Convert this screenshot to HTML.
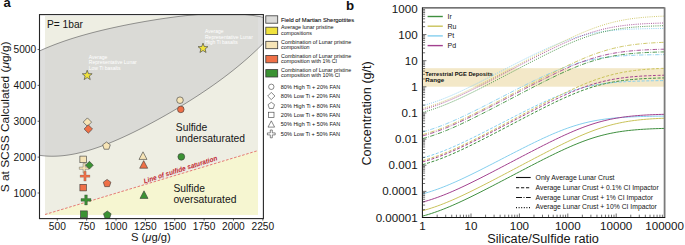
<!DOCTYPE html><html><head><meta charset="utf-8"><style>html,body{margin:0;padding:0;background:#fff;}svg{display:block;font-family:"Liberation Sans",sans-serif}</style></head><body>
<svg width="685" height="245" viewBox="0 0 685 245">
<defs><clipPath id="ca"><rect x="40" y="15" width="223" height="203"/></clipPath><clipPath id="cb"><rect x="423" y="8.5" width="241" height="209"/></clipPath></defs>
<rect width="685" height="245" fill="#fff"/>
<text x="3.4" y="7.4" font-size="13" font-weight="bold" fill="#111">a</text>
<text x="346.1" y="9.5" font-size="13.3" font-weight="bold" fill="#111">b</text>
<rect x="45" y="16" width="213" height="199" fill="#eeeee3"/>
<polygon points="45,214.50 258,150.60 258,215 45,215" fill="#f6f6d1"/>
<g clip-path="url(#ca)"><path d="M36.00,52.58 L38.00,51.64 L40.00,50.72 L42.00,49.83 L44.00,48.95 L46.00,48.10 L48.00,47.26 L50.00,46.44 L52.00,45.65 L54.00,44.86 L56.00,44.10 L58.00,43.36 L60.00,42.63 L62.00,41.91 L64.00,41.21 L66.00,40.53 L68.00,39.86 L70.00,39.20 L72.00,38.56 L74.00,37.93 L76.00,37.32 L78.00,36.71 L80.00,36.12 L82.00,35.54 L84.00,34.97 L86.00,34.41 L88.00,33.86 L90.00,33.32 L92.00,32.79 L94.00,32.27 L96.00,31.76 L98.00,31.26 L100.00,30.77 L102.00,30.28 L104.00,29.81 L106.00,29.34 L108.00,28.87 L110.00,28.42 L112.00,27.97 L114.00,27.53 L116.00,27.10 L118.00,26.67 L120.00,26.25 L122.00,25.83 L124.00,25.42 L126.00,25.02 L128.00,24.62 L130.00,24.23 L132.00,23.85 L134.00,23.47 L136.00,23.09 L138.00,22.73 L140.00,22.36 L142.00,22.00 L144.00,21.65 L146.00,21.30 L148.00,20.96 L150.00,20.63 L152.00,20.30 L154.00,19.97 L156.00,19.65 L158.00,19.34 L160.00,19.03 L162.00,18.73 L164.00,18.44 L166.00,18.15 L168.00,17.86 L170.00,17.59 L172.00,17.32 L174.00,17.06 L176.00,16.80 L178.00,16.55 L180.00,16.31 L182.00,16.08 L184.00,15.85 L186.00,15.63 L188.00,15.42 L190.00,15.22 L192.00,15.03 L194.00,14.85 L196.00,14.67 L198.00,14.51 L200.00,14.36 L202.00,14.21 L204.00,14.08 L206.00,13.96 L208.00,13.85 L210.00,13.76 L212.00,13.67 L214.00,13.60 L216.00,13.54 L218.00,13.50 L220.00,13.47 L222.00,13.45 L224.00,13.45 L226.00,13.47 L228.00,13.50 L230.00,13.55 L232.00,13.61 L234.00,13.69 L236.00,13.80 L238.00,13.92 L240.00,14.05 L242.00,14.21 L244.00,14.39 L246.00,14.60 L248.00,14.82 L250.00,15.06 L252.00,15.33 L254.00,15.62 L256.00,15.94 L258.00,16.28 L260.00,16.65 L262.00,17.05 L264.00,17.47 L266.00,17.92 L268.00,18.40 L268.00,38.59 L266.00,40.66 L264.00,42.70 L262.00,44.70 L260.00,46.67 L258.00,48.60 L256.00,50.51 L254.00,52.38 L252.00,54.22 L250.00,56.04 L248.00,57.82 L246.00,59.58 L244.00,61.31 L242.00,63.02 L240.00,64.70 L238.00,66.35 L236.00,67.99 L234.00,69.60 L232.00,71.19 L230.00,72.76 L228.00,74.30 L226.00,75.83 L224.00,77.34 L222.00,78.83 L220.00,80.31 L218.00,81.76 L216.00,83.20 L214.00,84.62 L212.00,86.03 L210.00,87.42 L208.00,88.80 L206.00,90.17 L204.00,91.51 L202.00,92.85 L200.00,94.18 L198.00,95.49 L196.00,96.79 L194.00,98.07 L192.00,99.35 L190.00,100.61 L188.00,101.87 L186.00,103.11 L184.00,104.34 L182.00,105.57 L180.00,106.78 L178.00,107.98 L176.00,109.17 L174.00,110.36 L172.00,111.53 L170.00,112.69 L168.00,113.85 L166.00,115.00 L164.00,116.13 L162.00,117.26 L160.00,118.38 L158.00,119.49 L156.00,120.58 L154.00,121.67 L152.00,122.75 L150.00,123.82 L148.00,124.89 L146.00,125.94 L144.00,126.98 L142.00,128.01 L140.00,129.03 L138.00,130.04 L136.00,131.03 L134.00,132.02 L132.00,132.99 L130.00,133.96 L128.00,134.91 L126.00,135.84 L124.00,136.77 L122.00,137.68 L120.00,138.57 L118.00,139.46 L116.00,140.32 L114.00,141.18 L112.00,142.01 L110.00,142.83 L108.00,143.63 L106.00,144.42 L104.00,145.18 L102.00,145.93 L100.00,146.66 L98.00,147.37 L96.00,148.05 L94.00,148.72 L92.00,149.36 L90.00,149.98 L88.00,150.58 L86.00,151.15 L84.00,151.70 L82.00,152.22 L80.00,152.71 L78.00,153.17 L76.00,153.61 L74.00,154.02 L72.00,154.39 L70.00,154.73 L68.00,155.05 L66.00,155.32 L64.00,155.57 L62.00,155.77 L60.00,155.94 L58.00,156.08 L56.00,156.17 L54.00,156.23 L52.00,156.24 L50.00,156.21 L48.00,156.13 L46.00,156.02 L44.00,155.85 L42.00,155.64 L40.00,155.38 L38.00,155.07 L36.00,154.71 Z" fill="#d3d3d1" fill-opacity="0.74" stroke="#555" stroke-width="0.6"/></g>
<line x1="45" y1="214.50" x2="258" y2="150.60" stroke="#e05a5a" stroke-width="0.8" stroke-dasharray="2.6 1.6"/>
<text transform="translate(144.4,183.4) rotate(-17.6)" font-size="6.9" font-weight="bold" font-style="italic" fill="#bf2430" textLength="77" lengthAdjust="spacingAndGlyphs">Line of sulfide saturation</text>
<text x="47" y="27.5" font-size="10.2" fill="#151515">P= 1bar</text>
<text font-size="10.3" fill="#151515"><tspan x="175.8" y="130.7">Sulfide</tspan><tspan x="175.8" y="142.1">undersaturated</tspan></text>
<text font-size="10.3" fill="#151515"><tspan x="173.4" y="192.1">Sulfide</tspan><tspan x="173.4" y="203.1">oversaturated</tspan></text>
<text font-size="5" fill="#fff"><tspan x="88.8" y="59.4">Average</tspan><tspan x="88.8" y="64.4">Representative Lunar</tspan><tspan x="88.8" y="69.5">Low Ti basalts</tspan></text>
<text font-size="5" fill="#fff"><tspan x="205" y="33.4">Average</tspan><tspan x="205" y="38.7">Representative Lunar</tspan><tspan x="205" y="44">High Ti basalts</tspan></text>
<g>
<polygon points="87.20,70.20 88.48,73.63 92.15,73.79 89.28,76.07 90.26,79.61 87.20,77.58 84.14,79.61 85.12,76.07 82.25,73.79 85.92,73.63" fill="#f0e23e" stroke="#3a3a3a" stroke-width="0.6" stroke-linejoin="round"/>
<polygon points="203.00,43.10 204.28,46.53 207.95,46.69 205.08,48.97 206.06,52.51 203.00,50.48 199.94,52.51 200.92,48.97 198.05,46.69 201.72,46.53" fill="#f0e23e" stroke="#3a3a3a" stroke-width="0.6" stroke-linejoin="round"/>
<polygon points="87.4,117.89999999999999 91.60000000000001,122.1 87.4,126.3 83.2,122.1" fill="#f6e4b6" stroke="#3a3a3a" stroke-width="0.6"/>
<polygon points="88.3,124.8 92.5,129.0 88.3,133.2 84.1,129.0" fill="#ef7047" stroke="#3a3a3a" stroke-width="0.6"/>
<circle cx="180" cy="100.2" r="3.3" fill="#f6e4b6" stroke="#3a3a3a" stroke-width="0.6"/>
<circle cx="180.8" cy="109.4" r="3.3" fill="#ef7047" stroke="#3a3a3a" stroke-width="0.6"/>
<polygon points="106.50,142.00 110.30,144.76 108.85,149.24 104.15,149.24 102.70,144.76" fill="#f6e4b6" stroke="#3a3a3a" stroke-width="0.6" stroke-linejoin="round"/>
<rect x="79.90" y="156.10" width="6.6" height="6.6" fill="#f6e4b6" stroke="#3a3a3a" stroke-width="0.6"/>
<polygon points="83.10,163.30 85.30,163.30 85.30,167.10 89.10,167.10 89.10,169.30 85.30,169.30 85.30,173.10 83.10,173.10 83.10,169.30 79.30,169.30 79.30,167.10 83.10,167.10" fill="#f6e4b6" stroke="#3a3a3a" stroke-width="0.5" stroke-opacity="0.7"/>
<polygon points="89.4,161.29999999999998 93.30000000000001,165.2 89.4,169.1 85.5,165.2" fill="#3b9233" stroke="#3a3a3a" stroke-width="0.6"/>
<polygon points="143,151.82 147.00,159.42 139.00,159.42" fill="#f6e4b6" stroke="#3a3a3a" stroke-width="0.6" stroke-linejoin="round"/>
<polygon points="143.7,160.62 147.70,168.22 139.70,168.22" fill="#ef7047" stroke="#3a3a3a" stroke-width="0.6" stroke-linejoin="round"/>
<circle cx="181.3" cy="156.8" r="3.4" fill="#3b9233" stroke="#3a3a3a" stroke-width="0.6"/>
<polygon points="83.85,171.30 86.15,171.30 86.15,175.05 89.90,175.05 89.90,177.35 86.15,177.35 86.15,181.10 83.85,181.10 83.85,177.35 80.10,177.35 80.10,175.05 83.85,175.05" fill="#ef7047" stroke="#3a3a3a" stroke-width="0.5" stroke-opacity="0.4"/>
<rect x="79.90" y="184.30" width="6.6" height="6.6" fill="#ef7047" stroke="#3a3a3a" stroke-width="0.6"/>
<polygon points="107.10,179.40 110.90,182.16 109.45,186.64 104.75,186.64 103.30,182.16" fill="#ef7047" stroke="#3a3a3a" stroke-width="0.6" stroke-linejoin="round"/>
<polygon points="144,190.82 148.00,198.42 140.00,198.42" fill="#3b9233" stroke="#3a3a3a" stroke-width="0.6" stroke-linejoin="round"/>
<polygon points="84.70,194.90 87.30,194.90 87.30,198.60 91.00,198.60 91.00,201.20 87.30,201.20 87.30,204.90 84.70,204.90 84.70,201.20 81.00,201.20 81.00,198.60 84.70,198.60" fill="#3b9233" stroke="#3a3a3a" stroke-width="0.5" stroke-opacity="0.7"/>
<rect x="80.50" y="210.90" width="6.8" height="6.8" fill="#3b9233" stroke="#3a3a3a" stroke-width="0.6"/>
<polygon points="107.30,211.00 111.10,213.76 109.65,218.24 104.95,218.24 103.50,213.76" fill="#3b9233" stroke="#3a3a3a" stroke-width="0.6" stroke-linejoin="round"/>
</g>
<rect x="39.5" y="14.6" width="223.9" height="204.0" fill="none" stroke="#262626" stroke-width="1.1"/>
<line x1="37.6" y1="193.00" x2="39.5" y2="193.00" stroke="#333" stroke-width="0.8"/>
<text x="36.2" y="196.60" font-size="10.2" text-anchor="end" fill="#151515">1000</text>
<line x1="37.6" y1="157.12" x2="39.5" y2="157.12" stroke="#333" stroke-width="0.8"/>
<text x="36.2" y="160.72" font-size="10.2" text-anchor="end" fill="#151515">2000</text>
<line x1="37.6" y1="121.24" x2="39.5" y2="121.24" stroke="#333" stroke-width="0.8"/>
<text x="36.2" y="124.84" font-size="10.2" text-anchor="end" fill="#151515">3000</text>
<line x1="37.6" y1="85.36" x2="39.5" y2="85.36" stroke="#333" stroke-width="0.8"/>
<text x="36.2" y="88.96" font-size="10.2" text-anchor="end" fill="#151515">4000</text>
<line x1="37.6" y1="49.48" x2="39.5" y2="49.48" stroke="#333" stroke-width="0.8"/>
<text x="36.2" y="53.08" font-size="10.2" text-anchor="end" fill="#151515">5000</text>
<line x1="57.30" y1="218.6" x2="57.30" y2="220.6" stroke="#333" stroke-width="0.8"/>
<text x="57.30" y="229.8" font-size="10.2" text-anchor="middle" fill="#151515">500</text>
<line x1="86.66" y1="218.6" x2="86.66" y2="220.6" stroke="#333" stroke-width="0.8"/>
<text x="86.66" y="229.8" font-size="10.2" text-anchor="middle" fill="#151515">750</text>
<line x1="116.02" y1="218.6" x2="116.02" y2="220.6" stroke="#333" stroke-width="0.8"/>
<text x="116.02" y="229.8" font-size="10.2" text-anchor="middle" fill="#151515">1000</text>
<line x1="145.38" y1="218.6" x2="145.38" y2="220.6" stroke="#333" stroke-width="0.8"/>
<text x="145.38" y="229.8" font-size="10.2" text-anchor="middle" fill="#151515">1250</text>
<line x1="174.74" y1="218.6" x2="174.74" y2="220.6" stroke="#333" stroke-width="0.8"/>
<text x="174.74" y="229.8" font-size="10.2" text-anchor="middle" fill="#151515">1500</text>
<line x1="204.10" y1="218.6" x2="204.10" y2="220.6" stroke="#333" stroke-width="0.8"/>
<text x="204.10" y="229.8" font-size="10.2" text-anchor="middle" fill="#151515">1750</text>
<line x1="233.46" y1="218.6" x2="233.46" y2="220.6" stroke="#333" stroke-width="0.8"/>
<text x="233.46" y="229.8" font-size="10.2" text-anchor="middle" fill="#151515">2000</text>
<line x1="262.82" y1="218.6" x2="262.82" y2="220.6" stroke="#333" stroke-width="0.8"/>
<text x="262.82" y="229.8" font-size="10.2" text-anchor="middle" fill="#151515">2250</text>
<text x="131.0" y="241.2" font-size="10.9" fill="#151515" textLength="39.8" lengthAdjust="spacingAndGlyphs">S (<tspan font-style="italic">μ</tspan>g/g)</text>
<text transform="translate(9.0,192.3) rotate(-90)" font-size="11" fill="#151515" textLength="150.8" lengthAdjust="spacingAndGlyphs">S at SCSS Calculated (<tspan font-style="italic">μ</tspan>g/g)</text>
<rect x="265.8" y="15.80" width="11.9" height="7.4" fill="#dcdcda" stroke="#3a3a3a" stroke-width="0.8"/>
<rect x="265.8" y="27.20" width="11.9" height="7.4" fill="#f0e23e" stroke="#3a3a3a" stroke-width="0.8"/>
<rect x="265.8" y="41.30" width="11.9" height="7.4" fill="#f6e4b6" stroke="#3a3a3a" stroke-width="0.8"/>
<rect x="265.8" y="55.40" width="11.9" height="7.4" fill="#ef7047" stroke="#3a3a3a" stroke-width="0.8"/>
<rect x="265.8" y="69.60" width="11.9" height="7.4" fill="#3b9233" stroke="#3a3a3a" stroke-width="0.8"/>
<text x="281" y="21.6" font-size="5.9" fill="#111" stroke="#111" stroke-width="0.1" textLength="73.2" lengthAdjust="spacingAndGlyphs">Field of Martian Shergottites</text>
<text x="281" y="29.00" font-size="5.9" fill="#111" textLength="52.5" lengthAdjust="spacingAndGlyphs">Average lunar pristine</text>
<text x="281" y="34.70" font-size="5.9" fill="#111" textLength="30.8" lengthAdjust="spacingAndGlyphs">compositions</text>
<text x="281" y="43.60" font-size="5.9" fill="#111" textLength="70.3" lengthAdjust="spacingAndGlyphs">Combination of Lunar pristine</text>
<text x="281" y="49.30" font-size="5.9" fill="#111" textLength="28.6" lengthAdjust="spacingAndGlyphs">composition</text>
<text x="281" y="57.60" font-size="5.9" fill="#111" textLength="70.3" lengthAdjust="spacingAndGlyphs">Combination of Lunar pristine</text>
<text x="281" y="63.30" font-size="5.9" fill="#111" textLength="56.1" lengthAdjust="spacingAndGlyphs">composition with 1% CI</text>
<text x="281" y="71.70" font-size="5.9" fill="#111" textLength="70.3" lengthAdjust="spacingAndGlyphs">Combination of Lunar pristine</text>
<text x="281" y="77.40" font-size="5.9" fill="#111" textLength="59.1" lengthAdjust="spacingAndGlyphs">composition with 10% CI</text>
<circle cx="271.3" cy="86.8" r="2.7" fill="#fff" stroke="#3a3a3a" stroke-width="0.6"/>
<text x="280.8" y="88.90" font-size="5.9" fill="#111" textLength="59.4" lengthAdjust="spacingAndGlyphs">80% High Ti + 20% FAN</text>
<polygon points="271.3,92.4 274.90000000000003,96.0 271.3,99.6 267.7,96.0" fill="#fff" stroke="#3a3a3a" stroke-width="0.6"/>
<text x="280.8" y="98.10" font-size="5.9" fill="#111" textLength="59.4" lengthAdjust="spacingAndGlyphs">80% Low Ti + 20% FAN</text>
<polygon points="271.30,102.30 274.53,104.65 273.30,108.45 269.30,108.45 268.07,104.65" fill="#fff" stroke="#3a3a3a" stroke-width="0.6" stroke-linejoin="round"/>
<text x="280.8" y="107.50" font-size="5.9" fill="#111" textLength="59.4" lengthAdjust="spacingAndGlyphs">20% High Ti + 80% FAN</text>
<rect x="268.60" y="112.20" width="5.4" height="5.4" fill="#fff" stroke="#3a3a3a" stroke-width="0.6"/>
<text x="280.8" y="117.00" font-size="5.9" fill="#111" textLength="59.4" lengthAdjust="spacingAndGlyphs">20% Low Ti + 80% FAN</text>
<polygon points="271.3,120.85 274.60,127.12 268.00,127.12" fill="#fff" stroke="#3a3a3a" stroke-width="0.6" stroke-linejoin="round"/>
<text x="280.8" y="126.40" font-size="5.9" fill="#111" textLength="59.4" lengthAdjust="spacingAndGlyphs">50% High Ti + 50% FAN</text>
<polygon points="270.30,130.00 272.30,130.00 272.30,132.90 275.20,132.90 275.20,134.90 272.30,134.90 272.30,137.80 270.30,137.80 270.30,134.90 267.40,134.90 267.40,132.90 270.30,132.90" fill="#fff" stroke="#3a3a3a" stroke-width="0.6" stroke-opacity="1"/>
<text x="280.8" y="136.00" font-size="5.9" fill="#111" textLength="59.4" lengthAdjust="spacingAndGlyphs">50% Low Ti + 50% FAN</text>
<rect x="423" y="68.2" width="241" height="18.5" fill="#f3e8c8"/>
<text font-size="6.2" font-weight="bold" fill="#111"><tspan x="425.3" y="76.4" textLength="67.5" lengthAdjust="spacingAndGlyphs">Terrestrial PGE Deposits</tspan><tspan x="425.3" y="81.9">Range</tspan></text>
<g clip-path="url(#cb)" fill="none">
<path d="M422.60,157.90 L425.62,157.05 L428.65,156.15 L431.68,155.19 L434.70,154.17 L437.73,153.10 L440.75,151.98 L443.78,150.81 L446.80,149.59 L449.83,148.33 L452.85,147.04 L455.88,145.70 L458.90,144.33 L461.93,142.94 L464.95,141.52 L467.98,140.07 L471.00,138.60 L474.03,137.12 L477.05,135.62 L480.08,134.10 L483.10,132.58 L486.12,131.04 L489.15,129.50 L492.18,127.95 L495.20,126.39 L498.23,124.83 L501.25,123.28 L504.28,121.72 L507.30,120.16 L510.33,118.60 L513.35,117.05 L516.38,115.51 L519.40,113.97 L522.43,112.44 L525.45,110.92 L528.48,109.42 L531.50,107.93 L534.52,106.46 L537.55,105.01 L540.58,103.58 L543.60,102.17 L546.62,100.80 L549.65,99.46 L552.67,98.15 L555.70,96.88 L558.73,95.65 L561.75,94.47 L564.77,93.33 L567.80,92.25 L570.83,91.22 L573.85,90.24 L576.88,89.32 L579.90,88.46 L582.92,87.66 L585.95,86.92 L588.98,86.23 L592.00,85.61 L595.02,85.03 L598.05,84.51 L601.08,84.04 L604.10,83.61 L607.12,83.23 L610.15,82.89 L613.17,82.58 L616.20,82.31 L619.23,82.07 L622.25,81.86 L625.27,81.68 L628.30,81.51 L631.33,81.37 L634.35,81.24 L637.38,81.13 L640.40,81.04 L643.42,80.95 L646.45,80.88 L649.48,80.81 L652.50,80.76 L655.52,80.71 L658.55,80.67 L661.58,80.63 L664.60,80.60" stroke="#85cfee" stroke-width="1.0" stroke-dasharray="3 1.6"/>
<path d="M422.60,160.60 L425.62,159.75 L428.65,158.85 L431.68,157.89 L434.70,156.87 L437.73,155.80 L440.75,154.67 L443.78,153.50 L446.80,152.28 L449.83,151.02 L452.85,149.72 L455.88,148.38 L458.90,147.01 L461.93,145.61 L464.95,144.19 L467.98,142.73 L471.00,141.26 L474.03,139.77 L477.05,138.26 L480.08,136.74 L483.10,135.20 L486.12,133.65 L489.15,132.09 L492.18,130.53 L495.20,128.95 L498.23,127.37 L501.25,125.79 L504.28,124.20 L507.30,122.61 L510.33,121.02 L513.35,119.42 L516.38,117.82 L519.40,116.23 L522.43,114.63 L525.45,113.04 L528.48,111.45 L531.50,109.86 L534.52,108.28 L537.55,106.70 L540.58,105.13 L543.60,103.56 L546.62,102.01 L549.65,100.46 L552.67,98.93 L555.70,97.41 L558.73,95.90 L561.75,94.41 L564.77,92.94 L567.80,91.50 L570.83,90.07 L573.85,88.68 L576.88,87.32 L579.90,85.99 L582.92,84.69 L585.95,83.44 L588.98,82.23 L592.00,81.07 L595.02,79.95 L598.05,78.89 L601.08,77.88 L604.10,76.93 L607.12,76.04 L610.15,75.21 L613.17,74.43 L616.20,73.71 L619.23,73.05 L622.25,72.45 L625.27,71.90 L628.30,71.40 L631.33,70.95 L634.35,70.54 L637.38,70.18 L640.40,69.86 L643.42,69.57 L646.45,69.31 L649.48,69.08 L652.50,68.88 L655.52,68.71 L658.55,68.55 L661.58,68.42 L664.60,68.30" stroke="#c9c25a" stroke-width="1.0" stroke-dasharray="3 1.6"/>
<path d="M422.60,164.60 L425.62,163.75 L428.65,162.85 L431.68,161.89 L434.70,160.87 L437.73,159.80 L440.75,158.68 L443.78,157.50 L446.80,156.29 L449.83,155.02 L452.85,153.72 L455.88,152.39 L458.90,151.02 L461.93,149.62 L464.95,148.19 L467.98,146.74 L471.00,145.27 L474.03,143.78 L477.05,142.27 L480.08,140.75 L483.10,139.22 L486.12,137.67 L489.15,136.12 L492.18,134.55 L495.20,132.99 L498.23,131.41 L501.25,129.83 L504.28,128.25 L507.30,126.67 L510.33,125.08 L513.35,123.50 L516.38,121.91 L519.40,120.33 L522.43,118.75 L525.45,117.18 L528.48,115.61 L531.50,114.04 L534.52,112.49 L537.55,110.94 L540.58,109.41 L543.60,107.88 L546.62,106.37 L549.65,104.88 L552.67,103.40 L555.70,101.95 L558.73,100.52 L561.75,99.11 L564.77,97.74 L567.80,96.40 L570.83,95.09 L573.85,93.82 L576.88,92.59 L579.90,91.41 L582.92,90.28 L585.95,89.20 L588.98,88.17 L592.00,87.20 L595.02,86.29 L598.05,85.43 L601.08,84.63 L604.10,83.89 L607.12,83.21 L610.15,82.59 L613.17,82.02 L616.20,81.50 L619.23,81.03 L622.25,80.61 L625.27,80.23 L628.30,79.89 L631.33,79.59 L634.35,79.32 L637.38,79.08 L640.40,78.87 L643.42,78.69 L646.45,78.53 L649.48,78.39 L652.50,78.26 L655.52,78.15 L658.55,78.06 L661.58,77.97 L664.60,77.90" stroke="#3f8f3f" stroke-width="1.0" stroke-dasharray="3 1.6"/>
<path d="M422.60,161.90 L425.62,161.05 L428.65,160.15 L431.68,159.19 L434.70,158.17 L437.73,157.10 L440.75,155.98 L443.78,154.80 L446.80,153.59 L449.83,152.32 L452.85,151.02 L455.88,149.69 L458.90,148.32 L461.93,146.92 L464.95,145.49 L467.98,144.04 L471.00,142.57 L474.03,141.08 L477.05,139.57 L480.08,138.05 L483.10,136.52 L486.12,134.97 L489.15,133.42 L492.18,131.85 L495.20,130.29 L498.23,128.71 L501.25,127.13 L504.28,125.55 L507.30,123.97 L510.33,122.38 L513.35,120.80 L516.38,119.21 L519.40,117.63 L522.43,116.05 L525.45,114.48 L528.48,112.91 L531.50,111.34 L534.52,109.79 L537.55,108.24 L540.58,106.71 L543.60,105.18 L546.62,103.67 L549.65,102.18 L552.67,100.70 L555.70,99.25 L558.73,97.82 L561.75,96.41 L564.77,95.04 L567.80,93.70 L570.83,92.39 L573.85,91.12 L576.88,89.89 L579.90,88.71 L582.92,87.58 L585.95,86.50 L588.98,85.47 L592.00,84.50 L595.02,83.59 L598.05,82.73 L601.08,81.93 L604.10,81.19 L607.12,80.51 L610.15,79.89 L613.17,79.32 L616.20,78.80 L619.23,78.33 L622.25,77.91 L625.27,77.53 L628.30,77.19 L631.33,76.89 L634.35,76.62 L637.38,76.38 L640.40,76.17 L643.42,75.99 L646.45,75.83 L649.48,75.69 L652.50,75.56 L655.52,75.45 L658.55,75.36 L661.58,75.27 L664.60,75.20" stroke="#a2418f" stroke-width="1.0" stroke-dasharray="3 1.6"/>
<path d="M422.60,131.90 L425.62,131.05 L428.65,130.15 L431.68,129.19 L434.70,128.17 L437.73,127.10 L440.75,125.98 L443.78,124.81 L446.80,123.59 L449.83,122.33 L452.85,121.04 L455.88,119.70 L458.90,118.33 L461.93,116.94 L464.95,115.52 L467.98,114.07 L471.00,112.60 L474.03,111.12 L477.05,109.62 L480.08,108.10 L483.10,106.58 L486.12,105.04 L489.15,103.50 L492.18,101.95 L495.20,100.39 L498.23,98.83 L501.25,97.28 L504.28,95.72 L507.30,94.16 L510.33,92.60 L513.35,91.05 L516.38,89.51 L519.40,87.97 L522.43,86.44 L525.45,84.92 L528.48,83.42 L531.50,81.93 L534.52,80.46 L537.55,79.01 L540.58,77.58 L543.60,76.17 L546.62,74.80 L549.65,73.46 L552.67,72.15 L555.70,70.88 L558.73,69.65 L561.75,68.47 L564.77,67.33 L567.80,66.25 L570.83,65.22 L573.85,64.24 L576.88,63.32 L579.90,62.46 L582.92,61.66 L585.95,60.92 L588.98,60.23 L592.00,59.61 L595.02,59.03 L598.05,58.51 L601.08,58.04 L604.10,57.61 L607.12,57.23 L610.15,56.89 L613.17,56.58 L616.20,56.31 L619.23,56.07 L622.25,55.86 L625.27,55.68 L628.30,55.51 L631.33,55.37 L634.35,55.24 L637.38,55.13 L640.40,55.04 L643.42,54.95 L646.45,54.88 L649.48,54.81 L652.50,54.76 L655.52,54.71 L658.55,54.67 L661.58,54.63 L664.60,54.60" stroke="#85cfee" stroke-width="0.9" stroke-dasharray="4.4 1.4 0.8 1.4"/>
<path d="M422.60,134.60 L425.62,133.75 L428.65,132.85 L431.68,131.89 L434.70,130.87 L437.73,129.80 L440.75,128.67 L443.78,127.50 L446.80,126.28 L449.83,125.02 L452.85,123.72 L455.88,122.38 L458.90,121.01 L461.93,119.61 L464.95,118.19 L467.98,116.73 L471.00,115.26 L474.03,113.77 L477.05,112.26 L480.08,110.74 L483.10,109.20 L486.12,107.65 L489.15,106.09 L492.18,104.53 L495.20,102.95 L498.23,101.37 L501.25,99.79 L504.28,98.20 L507.30,96.61 L510.33,95.02 L513.35,93.42 L516.38,91.82 L519.40,90.23 L522.43,88.63 L525.45,87.04 L528.48,85.45 L531.50,83.86 L534.52,82.28 L537.55,80.70 L540.58,79.13 L543.60,77.56 L546.62,76.01 L549.65,74.46 L552.67,72.93 L555.70,71.41 L558.73,69.90 L561.75,68.41 L564.77,66.94 L567.80,65.50 L570.83,64.07 L573.85,62.68 L576.88,61.32 L579.90,59.99 L582.92,58.69 L585.95,57.44 L588.98,56.23 L592.00,55.07 L595.02,53.95 L598.05,52.89 L601.08,51.88 L604.10,50.93 L607.12,50.04 L610.15,49.21 L613.17,48.43 L616.20,47.71 L619.23,47.05 L622.25,46.45 L625.27,45.90 L628.30,45.40 L631.33,44.95 L634.35,44.54 L637.38,44.18 L640.40,43.86 L643.42,43.57 L646.45,43.31 L649.48,43.08 L652.50,42.88 L655.52,42.71 L658.55,42.55 L661.58,42.42 L664.60,42.30" stroke="#c9c25a" stroke-width="0.9" stroke-dasharray="4.4 1.4 0.8 1.4"/>
<path d="M422.60,138.60 L425.62,137.75 L428.65,136.85 L431.68,135.89 L434.70,134.87 L437.73,133.80 L440.75,132.68 L443.78,131.50 L446.80,130.29 L449.83,129.02 L452.85,127.72 L455.88,126.39 L458.90,125.02 L461.93,123.62 L464.95,122.19 L467.98,120.74 L471.00,119.27 L474.03,117.78 L477.05,116.27 L480.08,114.75 L483.10,113.22 L486.12,111.67 L489.15,110.12 L492.18,108.55 L495.20,106.99 L498.23,105.41 L501.25,103.83 L504.28,102.25 L507.30,100.67 L510.33,99.08 L513.35,97.50 L516.38,95.91 L519.40,94.33 L522.43,92.75 L525.45,91.18 L528.48,89.61 L531.50,88.04 L534.52,86.49 L537.55,84.94 L540.58,83.41 L543.60,81.88 L546.62,80.37 L549.65,78.88 L552.67,77.40 L555.70,75.95 L558.73,74.52 L561.75,73.11 L564.77,71.74 L567.80,70.40 L570.83,69.09 L573.85,67.82 L576.88,66.59 L579.90,65.41 L582.92,64.28 L585.95,63.20 L588.98,62.17 L592.00,61.20 L595.02,60.29 L598.05,59.43 L601.08,58.63 L604.10,57.89 L607.12,57.21 L610.15,56.59 L613.17,56.02 L616.20,55.50 L619.23,55.03 L622.25,54.61 L625.27,54.23 L628.30,53.89 L631.33,53.59 L634.35,53.32 L637.38,53.08 L640.40,52.87 L643.42,52.69 L646.45,52.53 L649.48,52.39 L652.50,52.26 L655.52,52.15 L658.55,52.06 L661.58,51.97 L664.60,51.90" stroke="#3f8f3f" stroke-width="0.9" stroke-dasharray="4.4 1.4 0.8 1.4"/>
<path d="M422.60,135.90 L425.62,135.05 L428.65,134.15 L431.68,133.19 L434.70,132.17 L437.73,131.10 L440.75,129.98 L443.78,128.80 L446.80,127.59 L449.83,126.32 L452.85,125.02 L455.88,123.69 L458.90,122.32 L461.93,120.92 L464.95,119.49 L467.98,118.04 L471.00,116.57 L474.03,115.08 L477.05,113.57 L480.08,112.05 L483.10,110.52 L486.12,108.97 L489.15,107.42 L492.18,105.85 L495.20,104.29 L498.23,102.71 L501.25,101.13 L504.28,99.55 L507.30,97.97 L510.33,96.38 L513.35,94.80 L516.38,93.21 L519.40,91.63 L522.43,90.05 L525.45,88.48 L528.48,86.91 L531.50,85.34 L534.52,83.79 L537.55,82.24 L540.58,80.71 L543.60,79.18 L546.62,77.67 L549.65,76.18 L552.67,74.70 L555.70,73.25 L558.73,71.82 L561.75,70.41 L564.77,69.04 L567.80,67.70 L570.83,66.39 L573.85,65.12 L576.88,63.89 L579.90,62.71 L582.92,61.58 L585.95,60.50 L588.98,59.47 L592.00,58.50 L595.02,57.59 L598.05,56.73 L601.08,55.93 L604.10,55.19 L607.12,54.51 L610.15,53.89 L613.17,53.32 L616.20,52.80 L619.23,52.33 L622.25,51.91 L625.27,51.53 L628.30,51.19 L631.33,50.89 L634.35,50.62 L637.38,50.38 L640.40,50.17 L643.42,49.99 L646.45,49.83 L649.48,49.69 L652.50,49.56 L655.52,49.45 L658.55,49.36 L661.58,49.27 L664.60,49.20" stroke="#a2418f" stroke-width="0.9" stroke-dasharray="4.4 1.4 0.8 1.4"/>
<path d="M422.60,105.70 L425.62,104.85 L428.65,103.95 L431.68,102.99 L434.70,101.97 L437.73,100.90 L440.75,99.78 L443.78,98.61 L446.80,97.39 L449.83,96.13 L452.85,94.84 L455.88,93.50 L458.90,92.13 L461.93,90.74 L464.95,89.32 L467.98,87.87 L471.00,86.40 L474.03,84.92 L477.05,83.42 L480.08,81.90 L483.10,80.38 L486.12,78.84 L489.15,77.30 L492.18,75.75 L495.20,74.19 L498.23,72.63 L501.25,71.08 L504.28,69.52 L507.30,67.96 L510.33,66.40 L513.35,64.85 L516.38,63.31 L519.40,61.77 L522.43,60.24 L525.45,58.72 L528.48,57.22 L531.50,55.73 L534.52,54.26 L537.55,52.81 L540.58,51.38 L543.60,49.97 L546.62,48.60 L549.65,47.26 L552.67,45.95 L555.70,44.68 L558.73,43.45 L561.75,42.27 L564.77,41.13 L567.80,40.05 L570.83,39.02 L573.85,38.04 L576.88,37.12 L579.90,36.26 L582.92,35.46 L585.95,34.72 L588.98,34.03 L592.00,33.41 L595.02,32.83 L598.05,32.31 L601.08,31.84 L604.10,31.41 L607.12,31.03 L610.15,30.69 L613.17,30.38 L616.20,30.11 L619.23,29.87 L622.25,29.66 L625.27,29.48 L628.30,29.31 L631.33,29.17 L634.35,29.04 L637.38,28.93 L640.40,28.84 L643.42,28.75 L646.45,28.68 L649.48,28.61 L652.50,28.56 L655.52,28.51 L658.55,28.47 L661.58,28.43 L664.60,28.40" stroke="#85cfee" stroke-width="0.9" stroke-dasharray="1 1.2"/>
<path d="M422.60,108.40 L425.62,107.55 L428.65,106.65 L431.68,105.69 L434.70,104.67 L437.73,103.60 L440.75,102.47 L443.78,101.30 L446.80,100.08 L449.83,98.82 L452.85,97.52 L455.88,96.18 L458.90,94.81 L461.93,93.41 L464.95,91.99 L467.98,90.53 L471.00,89.06 L474.03,87.57 L477.05,86.06 L480.08,84.54 L483.10,83.00 L486.12,81.45 L489.15,79.89 L492.18,78.33 L495.20,76.75 L498.23,75.17 L501.25,73.59 L504.28,72.00 L507.30,70.41 L510.33,68.82 L513.35,67.22 L516.38,65.62 L519.40,64.03 L522.43,62.43 L525.45,60.84 L528.48,59.25 L531.50,57.66 L534.52,56.08 L537.55,54.50 L540.58,52.93 L543.60,51.36 L546.62,49.81 L549.65,48.26 L552.67,46.73 L555.70,45.21 L558.73,43.70 L561.75,42.21 L564.77,40.74 L567.80,39.30 L570.83,37.87 L573.85,36.48 L576.88,35.12 L579.90,33.79 L582.92,32.49 L585.95,31.24 L588.98,30.03 L592.00,28.87 L595.02,27.75 L598.05,26.69 L601.08,25.68 L604.10,24.73 L607.12,23.84 L610.15,23.01 L613.17,22.23 L616.20,21.51 L619.23,20.85 L622.25,20.25 L625.27,19.70 L628.30,19.20 L631.33,18.75 L634.35,18.34 L637.38,17.98 L640.40,17.66 L643.42,17.37 L646.45,17.11 L649.48,16.88 L652.50,16.68 L655.52,16.51 L658.55,16.35 L661.58,16.22 L664.60,16.10" stroke="#c9c25a" stroke-width="0.9" stroke-dasharray="1 1.2"/>
<path d="M422.60,112.40 L425.62,111.55 L428.65,110.65 L431.68,109.69 L434.70,108.67 L437.73,107.60 L440.75,106.48 L443.78,105.30 L446.80,104.09 L449.83,102.82 L452.85,101.52 L455.88,100.19 L458.90,98.82 L461.93,97.42 L464.95,95.99 L467.98,94.54 L471.00,93.07 L474.03,91.58 L477.05,90.07 L480.08,88.55 L483.10,87.02 L486.12,85.47 L489.15,83.92 L492.18,82.35 L495.20,80.79 L498.23,79.21 L501.25,77.63 L504.28,76.05 L507.30,74.47 L510.33,72.88 L513.35,71.30 L516.38,69.71 L519.40,68.13 L522.43,66.55 L525.45,64.98 L528.48,63.41 L531.50,61.84 L534.52,60.29 L537.55,58.74 L540.58,57.21 L543.60,55.68 L546.62,54.17 L549.65,52.68 L552.67,51.20 L555.70,49.75 L558.73,48.32 L561.75,46.91 L564.77,45.54 L567.80,44.20 L570.83,42.89 L573.85,41.62 L576.88,40.39 L579.90,39.21 L582.92,38.08 L585.95,37.00 L588.98,35.97 L592.00,35.00 L595.02,34.09 L598.05,33.23 L601.08,32.43 L604.10,31.69 L607.12,31.01 L610.15,30.39 L613.17,29.82 L616.20,29.30 L619.23,28.83 L622.25,28.41 L625.27,28.03 L628.30,27.69 L631.33,27.39 L634.35,27.12 L637.38,26.88 L640.40,26.67 L643.42,26.49 L646.45,26.33 L649.48,26.19 L652.50,26.06 L655.52,25.95 L658.55,25.86 L661.58,25.77 L664.60,25.70" stroke="#3f8f3f" stroke-width="0.9" stroke-dasharray="1 1.2"/>
<path d="M422.60,109.70 L425.62,108.85 L428.65,107.95 L431.68,106.99 L434.70,105.97 L437.73,104.90 L440.75,103.78 L443.78,102.60 L446.80,101.39 L449.83,100.12 L452.85,98.82 L455.88,97.49 L458.90,96.12 L461.93,94.72 L464.95,93.29 L467.98,91.84 L471.00,90.37 L474.03,88.88 L477.05,87.37 L480.08,85.85 L483.10,84.32 L486.12,82.77 L489.15,81.22 L492.18,79.65 L495.20,78.09 L498.23,76.51 L501.25,74.93 L504.28,73.35 L507.30,71.77 L510.33,70.18 L513.35,68.60 L516.38,67.01 L519.40,65.43 L522.43,63.85 L525.45,62.28 L528.48,60.71 L531.50,59.14 L534.52,57.59 L537.55,56.04 L540.58,54.51 L543.60,52.98 L546.62,51.47 L549.65,49.98 L552.67,48.50 L555.70,47.05 L558.73,45.62 L561.75,44.21 L564.77,42.84 L567.80,41.50 L570.83,40.19 L573.85,38.92 L576.88,37.69 L579.90,36.51 L582.92,35.38 L585.95,34.30 L588.98,33.27 L592.00,32.30 L595.02,31.39 L598.05,30.53 L601.08,29.73 L604.10,28.99 L607.12,28.31 L610.15,27.69 L613.17,27.12 L616.20,26.60 L619.23,26.13 L622.25,25.71 L625.27,25.33 L628.30,24.99 L631.33,24.69 L634.35,24.42 L637.38,24.18 L640.40,23.97 L643.42,23.79 L646.45,23.63 L649.48,23.49 L652.50,23.36 L655.52,23.25 L658.55,23.16 L661.58,23.07 L664.60,23.00" stroke="#a2418f" stroke-width="0.9" stroke-dasharray="1 1.2"/>
<path d="M422.60,193.90 L425.62,193.05 L428.65,192.15 L431.68,191.19 L434.70,190.17 L437.73,189.10 L440.75,187.98 L443.78,186.81 L446.80,185.59 L449.83,184.33 L452.85,183.03 L455.88,181.70 L458.90,180.33 L461.93,178.94 L464.95,177.51 L467.98,176.07 L471.00,174.60 L474.03,173.11 L477.05,171.61 L480.08,170.10 L483.10,168.57 L486.12,167.03 L489.15,165.49 L492.18,163.94 L495.20,162.38 L498.23,160.83 L501.25,159.26 L504.28,157.70 L507.30,156.14 L510.33,154.59 L513.35,153.03 L516.38,151.48 L519.40,149.94 L522.43,148.41 L525.45,146.89 L528.48,145.38 L531.50,143.89 L534.52,142.41 L537.55,140.95 L540.58,139.51 L543.60,138.10 L546.62,136.72 L549.65,135.36 L552.67,134.04 L555.70,132.76 L558.73,131.52 L561.75,130.32 L564.77,129.17 L567.80,128.07 L570.83,127.03 L573.85,126.03 L576.88,125.10 L579.90,124.22 L582.92,123.40 L585.95,122.64 L588.98,121.93 L592.00,121.29 L595.02,120.70 L598.05,120.16 L601.08,119.67 L604.10,119.23 L607.12,118.83 L610.15,118.48 L613.17,118.17 L616.20,117.88 L619.23,117.64 L622.25,117.42 L625.27,117.22 L628.30,117.05 L631.33,116.90 L634.35,116.77 L637.38,116.66 L640.40,116.56 L643.42,116.47 L646.45,116.39 L649.48,116.32 L652.50,116.27 L655.52,116.22 L658.55,116.17 L661.58,116.13 L664.60,116.10" stroke="#85cfee" stroke-width="1.0"/>
<path d="M422.60,210.70 L425.62,209.85 L428.65,208.95 L431.68,207.99 L434.70,206.97 L437.73,205.90 L440.75,204.77 L443.78,203.60 L446.80,202.38 L449.83,201.12 L452.85,199.82 L455.88,198.48 L458.90,197.11 L461.93,195.71 L464.95,194.29 L467.98,192.83 L471.00,191.36 L474.03,189.87 L477.05,188.36 L480.08,186.84 L483.10,185.30 L486.12,183.75 L489.15,182.19 L492.18,180.63 L495.20,179.05 L498.23,177.47 L501.25,175.89 L504.28,174.30 L507.30,172.71 L510.33,171.11 L513.35,169.52 L516.38,167.92 L519.40,166.33 L522.43,164.73 L525.45,163.14 L528.48,161.55 L531.50,159.96 L534.52,158.37 L537.55,156.79 L540.58,155.22 L543.60,153.66 L546.62,152.10 L549.65,150.55 L552.67,149.01 L555.70,147.49 L558.73,145.98 L561.75,144.49 L564.77,143.02 L567.80,141.57 L570.83,140.14 L573.85,138.75 L576.88,137.38 L579.90,136.04 L582.92,134.75 L585.95,133.49 L588.98,132.27 L592.00,131.10 L595.02,129.98 L598.05,128.91 L601.08,127.90 L604.10,126.94 L607.12,126.04 L610.15,125.20 L613.17,124.42 L616.20,123.69 L619.23,123.02 L622.25,122.41 L625.27,121.85 L628.30,121.35 L631.33,120.89 L634.35,120.48 L637.38,120.11 L640.40,119.78 L643.42,119.49 L646.45,119.23 L649.48,119.00 L652.50,118.79 L655.52,118.62 L658.55,118.46 L661.58,118.32 L664.60,118.20" stroke="#c9c25a" stroke-width="1.0"/>
<path d="M422.60,216.10 L425.62,215.25 L428.65,214.35 L431.68,213.39 L434.70,212.37 L437.73,211.30 L440.75,210.18 L443.78,209.00 L446.80,207.78 L449.83,206.52 L452.85,205.22 L455.88,203.89 L458.90,202.52 L461.93,201.12 L464.95,199.69 L467.98,198.24 L471.00,196.77 L474.03,195.28 L477.05,193.77 L480.08,192.25 L483.10,190.71 L486.12,189.17 L489.15,187.61 L492.18,186.05 L495.20,184.48 L498.23,182.90 L501.25,181.32 L504.28,179.74 L507.30,178.16 L510.33,176.57 L513.35,174.98 L516.38,173.40 L519.40,171.81 L522.43,170.23 L525.45,168.65 L528.48,167.07 L531.50,165.51 L534.52,163.94 L537.55,162.39 L540.58,160.85 L543.60,159.31 L546.62,157.79 L549.65,156.29 L552.67,154.80 L555.70,153.33 L558.73,151.89 L561.75,150.47 L564.77,149.07 L567.80,147.71 L570.83,146.38 L573.85,145.08 L576.88,143.83 L579.90,142.62 L582.92,141.46 L585.95,140.34 L588.98,139.28 L592.00,138.27 L595.02,137.32 L598.05,136.43 L601.08,135.59 L604.10,134.82 L607.12,134.10 L610.15,133.44 L613.17,132.83 L616.20,132.28 L619.23,131.78 L622.25,131.33 L625.27,130.92 L628.30,130.56 L631.33,130.23 L634.35,129.94 L637.38,129.69 L640.40,129.46 L643.42,129.26 L646.45,129.08 L649.48,128.93 L652.50,128.79 L655.52,128.67 L658.55,128.57 L661.58,128.48 L664.60,128.40" stroke="#3f8f3f" stroke-width="1.0"/>
<path d="M422.60,202.10 L425.62,201.25 L428.65,200.35 L431.68,199.39 L434.70,198.37 L437.73,197.30 L440.75,196.18 L443.78,195.00 L446.80,193.78 L449.83,192.52 L452.85,191.22 L455.88,189.89 L458.90,188.52 L461.93,187.12 L464.95,185.69 L467.98,184.24 L471.00,182.77 L474.03,181.28 L477.05,179.77 L480.08,178.25 L483.10,176.71 L486.12,175.17 L489.15,173.61 L492.18,172.05 L495.20,170.48 L498.23,168.90 L501.25,167.32 L504.28,165.74 L507.30,164.15 L510.33,162.57 L513.35,160.98 L516.38,159.39 L519.40,157.81 L522.43,156.23 L525.45,154.65 L528.48,153.07 L531.50,151.50 L534.52,149.94 L537.55,148.39 L540.58,146.84 L543.60,145.31 L546.62,143.79 L549.65,142.28 L552.67,140.79 L555.70,139.32 L558.73,137.87 L561.75,136.45 L564.77,135.05 L567.80,133.69 L570.83,132.36 L573.85,131.06 L576.88,129.80 L579.90,128.59 L582.92,127.42 L585.95,126.31 L588.98,125.24 L592.00,124.23 L595.02,123.28 L598.05,122.38 L601.08,121.54 L604.10,120.76 L607.12,120.04 L610.15,119.37 L613.17,118.76 L616.20,118.21 L619.23,117.71 L622.25,117.25 L625.27,116.84 L628.30,116.47 L631.33,116.15 L634.35,115.86 L637.38,115.60 L640.40,115.37 L643.42,115.17 L646.45,114.99 L649.48,114.83 L652.50,114.70 L655.52,114.58 L658.55,114.47 L661.58,114.38 L664.60,114.30" stroke="#a2418f" stroke-width="1.0"/>
</g>
<line x1="422.4" y1="7.9" x2="664.6" y2="7.9" stroke="#444" stroke-width="1.2"/>
<line x1="664.6" y1="7.4" x2="664.6" y2="217.6" stroke="#7a7a7a" stroke-width="1.8"/>
<line x1="422.4" y1="7.4" x2="422.4" y2="218" stroke="#111" stroke-width="1.0"/>
<line x1="422" y1="217.5" x2="665.2" y2="217.5" stroke="#111" stroke-width="1.0"/>
<path d="M422.9,209.65h2.2M422.9,205.05h2.2M422.9,201.78h2.2M422.9,199.25h2.2M422.9,197.18h2.2M422.9,195.43h2.2M422.9,193.91h2.2M422.9,192.58h2.2M422.9,183.51h2.2M422.9,178.91h2.2M422.9,175.64h2.2M422.9,173.11h2.2M422.9,171.04h2.2M422.9,169.29h2.2M422.9,167.77h2.2M422.9,166.44h2.2M422.9,191.38h3.5M422.9,157.37h2.2M422.9,152.77h2.2M422.9,149.50h2.2M422.9,146.97h2.2M422.9,144.90h2.2M422.9,143.15h2.2M422.9,141.63h2.2M422.9,140.30h2.2M422.9,165.24h3.5M422.9,131.23h2.2M422.9,126.63h2.2M422.9,123.36h2.2M422.9,120.83h2.2M422.9,118.76h2.2M422.9,117.01h2.2M422.9,115.49h2.2M422.9,114.16h2.2M422.9,139.10h3.5M422.9,105.09h2.2M422.9,100.49h2.2M422.9,97.22h2.2M422.9,94.69h2.2M422.9,92.62h2.2M422.9,90.87h2.2M422.9,89.35h2.2M422.9,88.02h2.2M422.9,112.96h3.5M422.9,78.95h2.2M422.9,74.35h2.2M422.9,71.08h2.2M422.9,68.55h2.2M422.9,66.48h2.2M422.9,64.73h2.2M422.9,63.21h2.2M422.9,61.88h2.2M422.9,86.82h3.5M422.9,52.81h2.2M422.9,48.21h2.2M422.9,44.94h2.2M422.9,42.41h2.2M422.9,40.34h2.2M422.9,38.59h2.2M422.9,37.07h2.2M422.9,35.74h2.2M422.9,60.68h3.5M422.9,26.67h2.2M422.9,22.07h2.2M422.9,18.80h2.2M422.9,16.27h2.2M422.9,14.20h2.2M422.9,12.45h2.2M422.9,10.93h2.2M422.9,9.60h2.2M422.9,34.54h3.5M437.17,217h0v-2.3M445.69,217h0v-2.3M451.74,217h0v-2.3M456.43,217h0v-2.3M460.26,217h0v-2.3M463.50,217h0v-2.3M466.31,217h0v-2.3M468.79,217h0v-2.3M485.57,217h0v-2.3M494.09,217h0v-2.3M500.14,217h0v-2.3M504.83,217h0v-2.3M508.66,217h0v-2.3M511.90,217h0v-2.3M514.71,217h0v-2.3M517.19,217h0v-2.3M471.00,217v-3.5M533.97,217h0v-2.3M542.49,217h0v-2.3M548.54,217h0v-2.3M553.23,217h0v-2.3M557.06,217h0v-2.3M560.30,217h0v-2.3M563.11,217h0v-2.3M565.59,217h0v-2.3M519.40,217v-3.5M582.37,217h0v-2.3M590.89,217h0v-2.3M596.94,217h0v-2.3M601.63,217h0v-2.3M605.46,217h0v-2.3M608.70,217h0v-2.3M611.51,217h0v-2.3M613.99,217h0v-2.3M567.80,217v-3.5M630.77,217h0v-2.3M639.29,217h0v-2.3M645.34,217h0v-2.3M650.03,217h0v-2.3M653.86,217h0v-2.3M657.10,217h0v-2.3M659.91,217h0v-2.3M662.39,217h0v-2.3M616.20,217v-3.5" stroke="#333" stroke-width="0.7" fill="none"/>
<text x="417.6" y="12.50" font-size="11.6" text-anchor="end" fill="#151515">1000</text>
<text x="417.6" y="38.64" font-size="11.6" text-anchor="end" fill="#151515">100</text>
<text x="417.6" y="64.78" font-size="11.6" text-anchor="end" fill="#151515">10</text>
<text x="417.6" y="90.92" font-size="11.6" text-anchor="end" fill="#151515">1</text>
<text x="417.6" y="117.06" font-size="11.6" text-anchor="end" fill="#151515">0.1</text>
<text x="417.6" y="143.20" font-size="11.6" text-anchor="end" fill="#151515">0.01</text>
<text x="417.6" y="169.34" font-size="11.6" text-anchor="end" fill="#151515">0.001</text>
<text x="417.6" y="195.48" font-size="11.6" text-anchor="end" fill="#151515">0.0001</text>
<text x="417.6" y="221.62" font-size="11.6" text-anchor="end" fill="#151515">0.00001</text>
<text x="422.60" y="230.3" font-size="11.6" text-anchor="middle" fill="#151515">1</text>
<text x="471.00" y="230.3" font-size="11.6" text-anchor="middle" fill="#151515">10</text>
<text x="519.40" y="230.3" font-size="11.6" text-anchor="middle" fill="#151515">100</text>
<text x="567.80" y="230.3" font-size="11.6" text-anchor="middle" fill="#151515">1000</text>
<text x="616.20" y="230.3" font-size="11.6" text-anchor="middle" fill="#151515">10000</text>
<text x="664.60" y="230.3" font-size="11.6" text-anchor="middle" fill="#151515">100000</text>
<text x="487.3" y="243.1" font-size="12.3" fill="#151515" textLength="111.6" lengthAdjust="spacingAndGlyphs">Silicate/Sulfide ratio</text>
<text transform="translate(370.6,165.6) rotate(-90)" font-size="12.3" fill="#151515" textLength="104.4" lengthAdjust="spacingAndGlyphs">Concentration (g/t)</text>
<line x1="427.6" y1="16.50" x2="442.8" y2="16.50" stroke="#3f8f3f" stroke-width="1.4"/>
<text x="447.5" y="19.00" font-size="7" fill="#151515">Ir</text>
<line x1="427.6" y1="26.20" x2="442.8" y2="26.20" stroke="#c9c25a" stroke-width="1.4"/>
<text x="447.5" y="28.70" font-size="7" fill="#151515">Ru</text>
<line x1="427.6" y1="35.90" x2="442.8" y2="35.90" stroke="#85cfee" stroke-width="1.4"/>
<text x="447.5" y="38.40" font-size="7" fill="#151515">Pt</text>
<line x1="427.6" y1="45.60" x2="442.8" y2="45.60" stroke="#a2418f" stroke-width="1.4"/>
<text x="447.5" y="48.10" font-size="7" fill="#151515">Pd</text>
<line x1="516" y1="177.50" x2="530.7" y2="177.50" stroke="#111" stroke-width="1.1"/>
<text x="535.6" y="179.90" font-size="6.8" fill="#151515" textLength="78.9" lengthAdjust="spacingAndGlyphs">Only Average Lunar Crust</text>
<line x1="516" y1="187.70" x2="530.7" y2="187.70" stroke="#111" stroke-width="1.1" stroke-dasharray="3.2 1.8"/>
<text x="535.6" y="189.70" font-size="6.8" fill="#151515" textLength="123.1" lengthAdjust="spacingAndGlyphs">Average Lunar Crust + 0.1% CI Impactor</text>
<line x1="516" y1="197.50" x2="530.7" y2="197.50" stroke="#111" stroke-width="1.1" stroke-dasharray="6 1.5 1 1.5"/>
<text x="535.6" y="199.50" font-size="6.8" fill="#151515" textLength="117.4" lengthAdjust="spacingAndGlyphs">Average Lunar Crust + 1% CI Impactor</text>
<line x1="516" y1="207.60" x2="530.7" y2="207.60" stroke="#111" stroke-width="1.1" stroke-dasharray="1 1.6"/>
<text x="535.6" y="209.40" font-size="6.8" fill="#151515" textLength="121.3" lengthAdjust="spacingAndGlyphs">Average Lunar Crust + 10% CI Impactor</text>
</svg></body></html>
